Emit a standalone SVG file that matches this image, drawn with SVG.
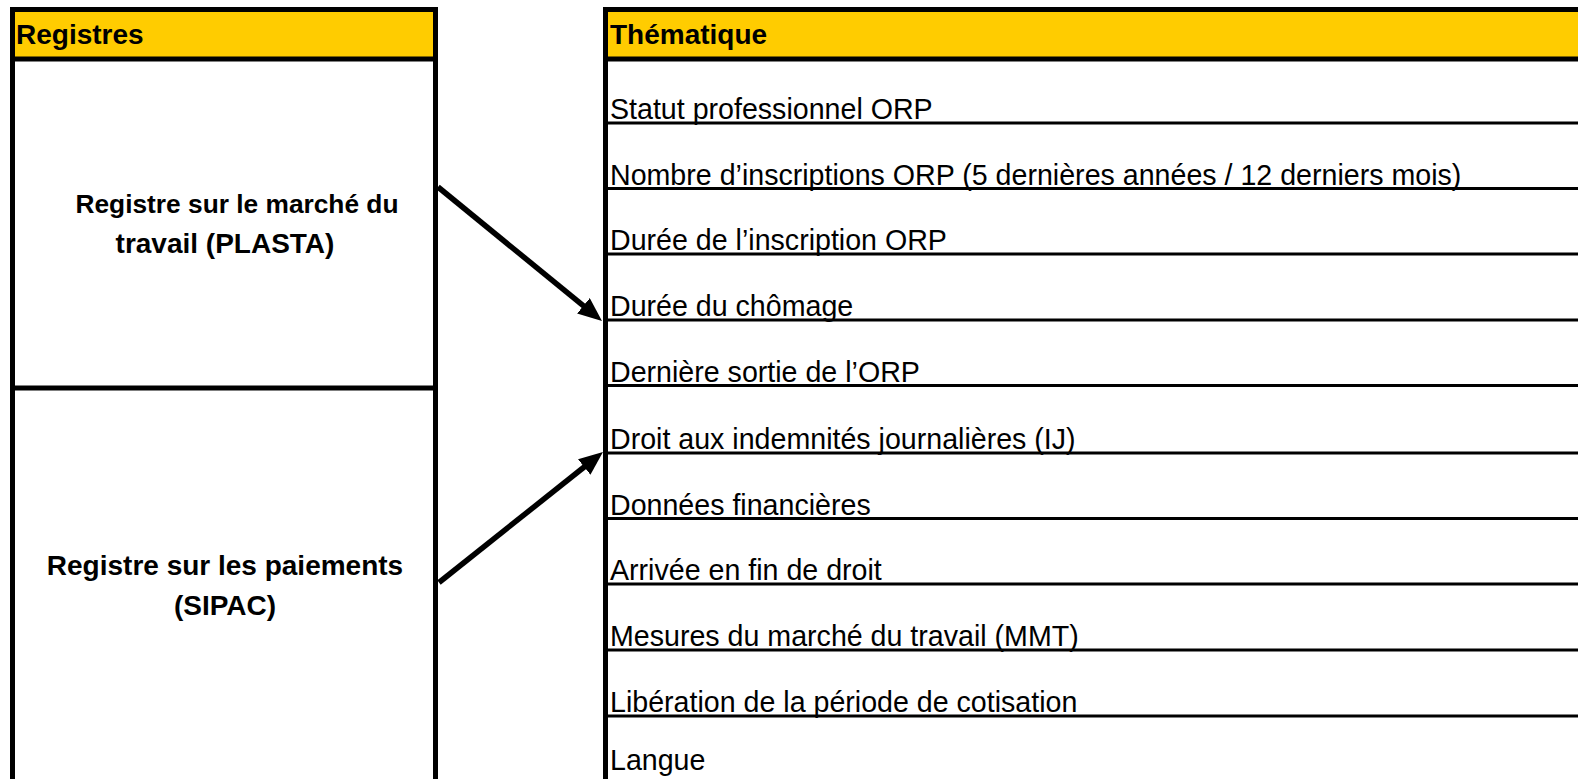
<svg xmlns="http://www.w3.org/2000/svg" width="1578" height="779" viewBox="0 0 1578 779">
<style>
.hdr{fill:#FFCC00}
.bd{stroke:#000;stroke-width:5;fill:none}
.row{stroke:#000;stroke-width:3}
.t{font-family:"Liberation Sans",Arial,sans-serif;font-size:28.6px;fill:#000}
.b{font-weight:bold;font-size:28px}
.conn{stroke:#000;stroke-width:5.5;fill:none}
</style>
<defs>
<marker id="ah" markerUnits="userSpaceOnUse" markerWidth="24" markerHeight="20" refX="12" refY="10" orient="auto">
<path d="M0,0 L24,10 L0,20 z" fill="#000"/>
</marker>
</defs>
<rect width="1578" height="779" fill="#fff"/>
<g id="registres">
<rect class="hdr" x="12.5" y="9.5" width="423" height="49.5"/>
<line class="bd" x1="12.5" y1="7" x2="12.5" y2="779"/>
<line class="bd" x1="435.5" y1="7" x2="435.5" y2="779"/>
<line class="bd" x1="10" y1="9.5" x2="438" y2="9.5"/>
<line class="bd" x1="10" y1="59" x2="438" y2="59"/>
<text class="t b" x="16" y="44">Registres</text>
</g>
<g id="plasta">
<text class="t b" x="237" y="213" text-anchor="middle" style="font-size:26.3px">Registre sur le marché du</text>
<text class="t b" x="225" y="253" text-anchor="middle">travail (PLASTA)</text>
</g>
<g id="sipac">
<line class="bd" x1="10" y1="388" x2="438" y2="388"/>
<text class="t b" x="225" y="575" text-anchor="middle">Registre sur les paiements</text>
<text class="t b" x="225" y="615" text-anchor="middle">(SIPAC)</text>
</g>
<g id="thematique">
<rect class="hdr" x="605.5" y="9.5" width="972.5" height="49.5"/>
<line class="bd" x1="605.5" y1="7" x2="605.5" y2="779"/>
<line class="bd" x1="603" y1="9.5" x2="1578" y2="9.5"/>
<line class="bd" x1="603" y1="59" x2="1578" y2="59"/>
<text class="t b" x="610" y="44">Thématique</text>
</g>
<g id="rows">
<line class="row" x1="607" y1="123" x2="1578" y2="123"/>
<line class="row" x1="607" y1="188.5" x2="1578" y2="188.5"/>
<line class="row" x1="607" y1="254" x2="1578" y2="254"/>
<line class="row" x1="607" y1="320" x2="1578" y2="320"/>
<line class="row" x1="607" y1="385.5" x2="1578" y2="385.5"/>
<line class="row" x1="607" y1="453" x2="1578" y2="453"/>
<line class="row" x1="607" y1="518.5" x2="1578" y2="518.5"/>
<line class="row" x1="607" y1="584" x2="1578" y2="584"/>
<line class="row" x1="607" y1="650" x2="1578" y2="650"/>
<line class="row" x1="607" y1="716" x2="1578" y2="716"/>
<text class="t" x="610" y="119">Statut professionnel ORP</text>
<text class="t" x="610" y="184.5">Nombre d’inscriptions ORP (5 dernières années / 12 derniers mois)</text>
<text class="t" x="610" y="250">Durée de l’inscription ORP</text>
<text class="t" x="610" y="316">Durée du chômage</text>
<text class="t" x="610" y="381.5">Dernière sortie de l’ORP</text>
<text class="t" x="610" y="449">Droit aux indemnités journalières (IJ)</text>
<text class="t" x="610" y="514.5">Données financières</text>
<text class="t" x="610" y="580">Arrivée en fin de droit</text>
<text class="t" x="610" y="646">Mesures du marché du travail (MMT)</text>
<text class="t" x="610" y="712">Libération de la période de cotisation</text>
<text class="t" x="610" y="770">Langue</text>
</g>
<g id="connectors">
<line class="conn" x1="438" y1="187" x2="592.7" y2="313.4" marker-end="url(#ah)"/>
<line class="conn" x1="439" y1="582.5" x2="593.6" y2="459.5" marker-end="url(#ah)"/>
</g>
</svg>
